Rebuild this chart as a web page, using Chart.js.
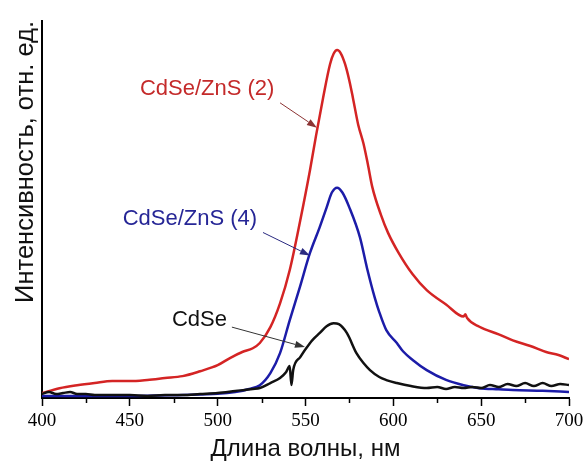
<!DOCTYPE html>
<html>
<head>
<meta charset="utf-8">
<script src="https://cdn.jsdelivr.net/npm/chart.js@4.4.1/dist/chart.umd.min.js"></script>
<style>
  html, body { margin: 0; padding: 0; background: #fff; }
  #wrap { width: 583px; height: 464px; }
</style>
</head>
<body>
<div id="wrap"><canvas id="spectra" width="583" height="464"></canvas></div>
<script>
// spectra: wavelength (nm) and intensity (arb. units, 0..100)
const redNm = [400, 410, 420, 430, 440, 450, 460, 470, 480, 490, 500, 507, 514, 520, 524, 530, 535.5, 541, 547, 552.5, 556, 560, 564, 566, 568, 570, 572.5, 575, 577, 580, 583, 585.5, 588, 593, 597, 603, 611, 619, 630, 640, 641, 642, 649, 660, 668, 678, 687, 694, 700]
const redInt = [1.3, 2.6, 3.4, 4.0, 4.5, 4.5, 4.8, 5.3, 5.8, 7.1, 8.7, 10.6, 12.2, 13.2, 14.6, 18.8, 25.1, 33.9, 47.1, 60.3, 69.6, 79.6, 88.6, 91.3, 92.3, 91.5, 88.6, 84.1, 79.6, 72.5, 67.5, 62.0, 56.0, 48.5, 43.8, 38.5, 32.8, 28.6, 24.8, 21.6, 22.2, 21.2, 18.9, 16.9, 15.3, 13.8, 12.2, 11.4, 10.3]

const blueNm = [400, 420, 450, 480, 500, 510, 518, 524, 530, 535.5, 541, 546.8, 552.5, 558, 562, 565, 568, 571, 575, 581, 585, 589.5, 592, 596, 602, 605.5, 611, 619, 630, 640, 649, 660, 668, 685, 700]
const blueInt = [0.5, 0.5, 0.5, 0.8, 1.1, 1.6, 2.4, 3.4, 6.6, 11.9, 20.6, 29.4, 38.4, 45.2, 50.5, 54.5, 55.8, 54.5, 50.5, 42.6, 34.5, 26.5, 22.8, 18.0, 14.6, 12.4, 10.1, 7.4, 4.8, 3.4, 2.6, 2.3, 2.1, 1.9, 1.6]

const blackNm = [400, 404, 408, 412, 416, 420, 425, 430, 440, 450, 460, 470, 480, 490, 500, 510, 520, 524, 530, 535.5, 539, 541, 542, 543, 547, 552.5, 555, 558, 562, 566, 569, 573.6, 579, 583, 586.7, 592, 596, 602, 610, 619, 625, 630, 635, 640, 645, 650, 655, 660, 665, 670, 675, 680, 685, 690, 695, 700]
const blackInt = [1.06, 1.59, 1.06, 1.32, 1.59, 1.06, 1.06, 0.79, 0.79, 0.79, 0.53, 0.79, 0.79, 1.06, 1.32, 1.85, 2.38, 2.65, 3.97, 5.29, 6.88, 8.47, 3.44, 7.41, 10.85, 14.55, 15.87, 17.2, 19.05, 19.84, 19.58, 17.2, 11.9, 9.26, 7.41, 5.56, 4.76, 3.97, 3.17, 2.65, 2.91, 2.38, 2.91, 2.65, 2.91, 2.65, 3.44, 2.91, 3.7, 3.17, 3.97, 3.17, 3.97, 3.17, 3.7, 3.44]

const majorTicks = [400, 450, 500, 550, 600, 650, 700]
const minorTicks = [425, 475, 525, 575, 625, 675]

// curve labels with arrows, in data coordinates
const notes = [
  { text: "CdSe/ZnS (2)", at: [494, 82], from: [535.5, 78.3], to: [556.5, 71.7], color: "#c42a2a", arrow: "#8c3434" },
  { text: "CdSe/ZnS (4)", at: [484.2, 47.6], from: [525.8, 43.9], to: [552.5, 37.8], color: "#262696", arrow: "#2a2a80" },
  { text: "CdSe", at: [489.6, 20.6], from: [508.1, 18.8], to: [549.7, 13.5], color: "#111111", arrow: "#333333" }
]

const points = (xs, ys) => xs.map((x, i) => ({ x, y: ys[i] }))

const line = (label, data, color) => ({
  label,
  data,
  borderColor: color,
  borderWidth: 2.5,
  pointRadius: 0,
  cubicInterpolationMode: "monotone",
  fill: false
})

const sans = '"Liberation Sans", Arial, sans-serif'

function drawArrow(ctx, x1, y1, x2, y2, color) {
  const ang = Math.atan2(y2 - y1, x2 - x1)
  const len = 10, half = 3.5
  ctx.strokeStyle = color
  ctx.fillStyle = color
  ctx.lineWidth = 1
  ctx.beginPath()
  ctx.moveTo(x1, y1)
  ctx.lineTo(x2 - Math.cos(ang) * len, y2 - Math.sin(ang) * len)
  ctx.stroke()
  ctx.beginPath()
  ctx.moveTo(x2, y2)
  ctx.lineTo(x2 - Math.cos(ang) * len - Math.sin(ang) * half, y2 - Math.sin(ang) * len + Math.cos(ang) * half)
  ctx.lineTo(x2 - Math.cos(ang) * len + Math.sin(ang) * half, y2 - Math.sin(ang) * len - Math.cos(ang) * half)
  ctx.closePath()
  ctx.fill()
}

const extras = {
  id: "extras",
  afterDatasetsDraw(chart) {
    const { ctx, scales: { x, y } } = chart
    ctx.save()
    // minor ticks, shorter than the major ones
    ctx.strokeStyle = "#000"
    ctx.lineWidth = 1.5
    minorTicks.forEach(v => {
      const px = Math.round(x.getPixelForValue(v)) + 0.5
      ctx.beginPath()
      ctx.moveTo(px, x.top)
      ctx.lineTo(px, x.top + 5)
      ctx.stroke()
    })
    ctx.font = "22px " + sans
    ctx.textAlign = "center"
    ctx.textBaseline = "middle"
    notes.forEach(n => {
      ctx.fillStyle = n.color
      ctx.fillText(n.text, x.getPixelForValue(n.at[0]), y.getPixelForValue(n.at[1]))
      drawArrow(ctx,
        x.getPixelForValue(n.from[0]), y.getPixelForValue(n.from[1]),
        x.getPixelForValue(n.to[0]), y.getPixelForValue(n.to[1]), n.arrow)
    })
    ctx.restore()
  }
}

new Chart(document.getElementById("spectra"), {
  type: "line",
  data: {
    datasets: [
      line("CdSe", points(blackNm, blackInt), "#111111"),
      line("CdSe/ZnS (4)", points(blueNm, blueInt), "#1c1ca8"),
      line("CdSe/ZnS (2)", points(redNm, redInt), "#d42424")
    ]
  },
  options: {
    responsive: false,
    animation: false,
    layout: { padding: { top: 21, right: 14, left: 0, bottom: 0 } },
    plugins: { legend: { display: false }, tooltip: { enabled: false } },
    scales: {
      x: {
        type: "linear",
        position: "bottom",
        min: 400,
        max: 700,
        afterBuildTicks: s => { s.ticks = majorTicks.map(v => ({ value: v })) },
        afterFit: s => { s.height = 66; s.paddingLeft = 0; s.paddingRight = 0 },
        ticks: {
          autoSkip: false,
          maxRotation: 0,
          padding: 4,
          color: "#000",
          font: { family: '"Liberation Serif", "Times New Roman", serif', size: 19 }
        },
        grid: { display: true, drawOnChartArea: false, drawTicks: true, tickLength: 8, tickWidth: 1.5, tickColor: "#000" },
        border: { display: true, color: "#000", width: 2 },
        title: {
          display: true,
          text: "Длина волны, нм",
          color: "#111",
          font: { family: sans, size: 24 },
          padding: { top: 0, bottom: 0 }
        }
      },
      y: {
        min: 0,
        max: 100,
        afterFit: s => { s.width = 42 },
        ticks: { display: false },
        grid: { display: false },
        border: { display: true, color: "#000", width: 2 },
        title: {
          display: true,
          align: "end",
          text: "Интенсивность, отн. ед.",
          color: "#111",
          font: { family: sans, size: 25.5 },
          padding: { top: 11, bottom: 0 }
        }
      }
    }
  },
  plugins: [extras]
})
</script>
</body>
</html>
